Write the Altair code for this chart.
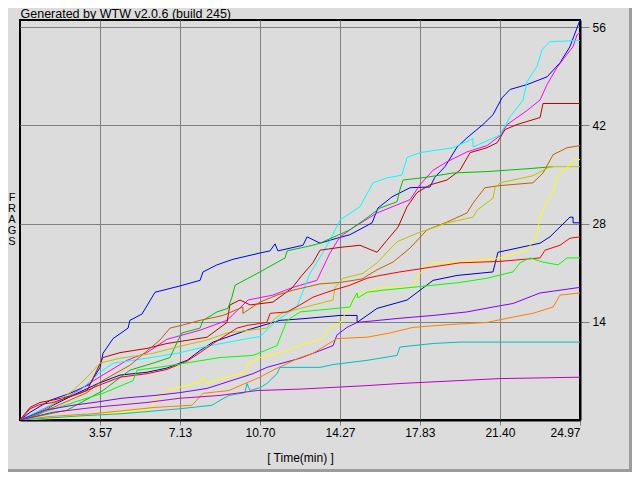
import altair as alt
import pandas as pd

# ---------------- data (time in minutes, frags) ----------------
players = ["blue", "darkblue", "magenta", "cyan", "darkred", "green", "brown",
           "olive", "yellow", "red", "lime", "purple", "orange", "teal", "violet"]
colors = ["#0000FF", "#0000C0", "#FF00FF", "#00FFFF", "#C00000", "#00C000", "#C06000",
          "#C0C000", "#FFFF00", "#FF0000", "#00FF00", "#8000FF", "#FF8000", "#00C0C0", "#C000C0"]

t_blue = [0, 0.45, 1.34, 2.23, 3.12, 3.57, 3.70, 4.15, 4.82, 4.90, 5.44, 6.02, 7.13, 8.03, 8.16, 8.78, 9.50, 10.70,
          11.15, 11.37, 11.50, 12.62, 12.80, 13.38, 14.13, 14.71, 15.70, 15.96, 16.59, 17.39, 18.28, 18.50, 18.95,
          19.49, 19.93, 20.64, 21.09, 21.49, 21.85, 22.61, 23.50, 24.08, 24.52, 24.97]
f_blue = [0, 1.1, 2.8, 3.8, 5.1, 7.5, 9.5, 11.6, 13.1, 14.2, 15.1, 18.2, 19.1, 19.9, 21.1, 22.1, 22.9, 23.8,
          24.1, 25.1, 24.1, 24.9, 26.1, 25.2, 25.9, 26.4, 28.1, 30.2, 31.8, 33.1, 33.2, 34.6, 36.1,
          38.9, 40.2, 42.1, 43.5, 45.9, 47.1, 47.8, 48.9, 50.9, 53.2, 57.0]

t_darkblue = [0, 0.89, 1.47, 2.54, 3.48, 4.46, 5.66, 6.55, 7.45, 8.03, 8.61, 10.12, 11.59, 12.49, 14.27, 15.03,
              15.03, 15.92, 17.26, 18.42, 19.49, 21.09, 21.31, 23.19, 23.63, 24.52, 24.66, 24.66, 24.97]
f_darkblue = [0, 0.9, 2.1, 3.8, 5.2, 6.4, 6.8, 7.4, 8.5, 9.9, 11.1, 12.8, 14.2, 14.4, 14.9, 14.9,
              13.9, 15.9, 17.1, 19.9, 20.6, 21.1, 23.9, 25.2, 26.1, 28.9, 28.9, 28.1, 28.1]

t_magenta = [0, 1.11, 2.23, 3.43, 4.77, 5.66, 6.55, 8.03, 9.23, 10.17, 11.28, 12.17, 13.24, 13.82, 14.27, 14.85,
             15.92, 17.39, 17.83, 18.42, 19.04, 19.93, 20.82, 21.40, 21.72, 22.61, 23.19, 23.50, 23.94, 24.39,
             24.66, 24.84, 24.97]
f_magenta = [0, 1.6, 3.5, 5.9, 8.5, 9.6, 11.5, 12.8, 14.2, 17.1, 17.8, 18.9, 19.9, 23.8, 26.1, 27.4,
             29.5, 31.4, 33.5, 35.6, 36.8, 38.2, 39.1, 40.5, 42.1, 44.1, 45.6, 47.8, 50.2, 52.1,
             53.2, 54.9, 55.2]

t_cyan = [0, 1.34, 2.68, 3.57, 4.15, 5.66, 7.00, 8.47, 9.81, 10.70, 11.46, 12.35, 12.93, 13.38, 13.82, 14.27,
          15.16, 15.74, 16.36, 17.03, 17.26, 17.83, 19.31, 20.20, 20.20, 21.40, 21.85, 22.43, 22.61, 23.05,
          23.28, 23.63, 24.97]
f_cyan = [0, 2.1, 4.2, 6.8, 8.1, 8.8, 9.5, 10.6, 11.4, 11.9, 14.2, 16.1, 20.9, 23.2, 25.6, 28.5,
          30.4, 33.8, 34.5, 34.9, 37.4, 38.1, 38.8, 40.1, 38.9, 40.6, 43.2, 45.6, 48.2, 50.4,
          52.8, 53.9, 54.1]

t_darkred = [0, 0.45, 0.89, 1.56, 2.23, 2.99, 3.43, 3.70, 4.46, 5.66, 6.55, 8.34, 9.23, 9.36, 9.81, 10.26,
             11.28, 12.13, 12.57, 13.06, 13.38, 14.27, 15.16, 15.92, 16.36, 16.86, 17.26, 17.70, 18.28, 19.04,
             19.62, 20.07, 20.82, 21.27, 21.63, 22.16, 23.19, 23.32, 24.97]
f_darkred = [0, 1.8, 2.5, 2.9, 3.4, 4.2, 7.1, 8.9, 9.6, 10.2, 10.9, 11.8, 13.9, 16.4, 17.1, 16.4,
             16.8, 18.8, 20.6, 22.4, 24.2, 24.6, 24.9, 23.9, 25.6, 27.5, 30.4, 32.4, 33.5, 34.2,
             35.6, 38.1, 38.8, 39.5, 41.4, 42.1, 43.1, 45.1, 45.1]

t_green = [0, 2.10, 3.70, 4.90, 5.93, 6.69, 7.05, 7.22, 8.03, 8.16, 8.78, 9.27, 9.45, 9.59, 10.70, 11.82,
           11.91, 13.06, 13.38, 14.71, 15.47, 16.05, 16.81, 16.94, 17.08, 18.15, 19.31, 20.82, 22.61, 23.77]
f_green = [0, 1.4, 4.2, 7.1, 8.1, 8.9, 11.4, 12.4, 13.1, 14.2, 15.4, 15.9, 17.5, 19.2, 21.1, 23.1,
           24.1, 24.9, 25.2, 27.1, 28.8, 30.2, 31.1, 32.8, 34.2, 34.6, 35.2, 35.4, 35.8, 36.1]

t_brown = [0, 1.34, 2.99, 3.57, 4.90, 5.80, 6.24, 6.69, 7.22, 8.03, 9.05, 9.94, 9.94, 10.70, 11.46, 12.17,
           13.38, 14.27, 15.25, 15.92, 16.63, 17.39, 18.15, 19.04, 19.93, 20.20, 20.73, 21.40, 22.87, 23.32,
           23.77, 24.39, 24.97]
f_brown = [0, 1.6, 3.9, 5.4, 7.8, 10.2, 11.4, 13.1, 13.5, 14.2, 14.9, 16.1, 15.2, 16.8, 17.8, 18.5,
           19.4, 19.6, 20.1, 21.4, 22.5, 24.5, 27.1, 28.2, 29.5, 30.9, 33.1, 33.4, 33.8, 35.2,
           37.8, 38.8, 39.1]

t_olive = [0, 1.11, 2.36, 2.99, 3.57, 4.46, 5.93, 7.00, 8.34, 9.23, 11.01, 11.28, 11.68, 12.49, 13.96, 14.05,
           14.40, 15.29, 15.92, 16.81, 17.70, 19.04, 20.20, 20.38, 21.09, 21.18, 21.40, 22.87, 23.63, 24.97]
f_olive = [0, 1.4, 4.2, 6.1, 8.1, 8.8, 9.5, 10.4, 11.4, 12.4, 13.1, 14.2, 15.2, 15.9, 17.1, 18.9,
           20.2, 20.9, 22.4, 25.4, 26.6, 28.1, 28.9, 29.9, 31.6, 33.1, 33.8, 34.8, 36.1, 36.1]

t_yellow = [0, 1.47, 2.99, 4.46, 5.80, 6.02, 6.55, 8.03, 8.16, 8.34, 8.92, 10.12, 10.17, 10.70, 11.91, 12.49,
            13.51, 13.82, 14.27, 14.71, 15.03, 15.92, 17.52, 17.75, 18.28, 19.62, 21.40, 22.61, 23.05, 23.19,
            23.41, 23.77, 23.99, 24.39, 24.66, 24.97]
f_yellow = [0, 0.2, 0.6, 1.1, 1.5, 2.8, 4.2, 5.4, 6.1, 5.2, 5.9, 6.8, 8.1, 8.9, 9.9, 10.6,
            11.6, 13.2, 13.8, 16.4, 17.8, 18.8, 18.9, 20.6, 22.4, 22.5, 23.1, 24.2, 26.4, 28.9,
            30.6, 32.4, 34.9, 35.9, 37.1, 37.1]

t_red = [0, 0.45, 0.89, 1.47, 2.68, 3.48, 4.46, 5.66, 6.55, 7.45, 8.03, 8.61, 9.68, 10.17, 11.01, 11.15,
         11.91, 12.49, 13.06, 13.96, 14.71, 15.47, 16.05, 16.94, 17.97, 19.62, 21.40, 23.19, 23.41, 24.08,
         24.52, 24.97]
f_red = [0, 1.6, 2.2, 2.5, 3.8, 4.9, 6.1, 6.6, 7.2, 8.4, 9.6, 10.9, 13.1, 13.5, 13.9, 15.2,
         15.4, 16.4, 17.5, 18.5, 19.2, 20.2, 20.6, 21.1, 21.6, 22.4, 22.6, 23.1, 24.2, 24.9,
         25.9, 26.1]

t_lime = [0, 1.34, 2.68, 3.70, 5.04, 5.22, 6.38, 8.92, 10.39, 11.46, 11.73, 11.91, 12.49, 14.71, 14.85, 15.03,
          15.07, 15.47, 16.19, 18.42, 19.62, 20.82, 21.98, 22.30, 22.74, 23.32, 23.99, 24.39, 24.97]
f_lime = [0, 1.4, 2.8, 3.8, 5.6, 7.1, 7.6, 8.9, 9.2, 10.6, 12.8, 14.2, 15.4, 16.1, 17.1, 18.1,
          17.4, 18.2, 18.5, 19.2, 19.6, 20.2, 21.1, 22.4, 23.1, 22.5, 22.1, 23.1, 23.1]

t_purple = [0, 1.11, 2.36, 3.30, 4.55, 6.02, 7.13, 8.34, 10.39, 11.01, 12.49, 13.96, 14.13, 14.58, 15.03, 16.94,
            18.42, 19.93, 21.09, 21.98, 23.19, 24.08, 24.97]
f_purple = [0, 1.4, 2.1, 2.5, 3.1, 3.5, 3.9, 4.5, 6.6, 7.5, 8.8, 10.6, 12.1, 13.2, 13.9, 14.5,
            14.9, 15.4, 16.1, 16.6, 18.1, 18.5, 18.9]

t_orange = [0, 1.34, 3.30, 6.02, 7.67, 8.16, 9.32, 10.03, 10.70, 11.28, 12.49, 13.06, 14.13, 15.47, 16.50, 17.52,
            19.17, 20.82, 21.72, 22.87, 23.77, 24.08, 24.97]
f_orange = [0, 0.5, 0.9, 1.8, 2.1, 3.8, 4.2, 5.2, 6.1, 7.1, 8.9, 9.5, 11.6, 11.8, 12.4, 13.2,
            13.6, 13.9, 14.5, 15.2, 16.1, 17.8, 18.1]

t_teal = [0, 2.76, 4.55, 7.13, 8.56, 8.92, 9.32, 10.03, 10.12, 10.26, 10.70, 11.01, 11.46, 11.59, 13.38, 13.96,
          15.47, 16.81, 16.94, 18.42, 19.62, 24.97]
f_teal = [0, 0.6, 0.9, 1.6, 2.1, 2.8, 3.5, 3.9, 5.2, 4.2, 4.6, 5.2, 6.6, 7.5, 7.5, 7.9,
          8.5, 9.2, 10.4, 10.9, 11.1, 11.1]

t_violet = [0, 1.47, 3.30, 5.66, 7.13, 8.92, 10.57, 12.49, 15.47, 16.94, 21.40, 24.97]
f_violet = [0, 1.1, 1.8, 2.5, 3.1, 3.5, 4.2, 4.4, 4.9, 5.2, 5.9, 6.1]

x_ticks = [3.57, 7.13, 10.70, 14.27, 17.83, 21.40, 24.97]
y_ticks = [14, 28, 42, 56]

series_t = [t_blue, t_darkblue, t_magenta, t_cyan, t_darkred, t_green, t_brown, t_olive,
            t_yellow, t_red, t_lime, t_purple, t_orange, t_teal, t_violet]
series_f = [f_blue, f_darkblue, f_magenta, f_cyan, f_darkred, f_green, f_brown, f_olive,
            f_yellow, f_red, f_lime, f_purple, f_orange, f_teal, f_violet]

rows = []
for name, ts, fs in zip(players, series_t, series_f):
    for i, (t, f) in enumerate(zip(ts, fs)):
        rows.append({"player": name, "t": t, "f": f, "i": i})
df = pd.DataFrame(rows)

FONT = "Liberation Sans"
one = alt.Data(values=[{}])

lines = alt.Chart(df).mark_line(strokeWidth=1, clip=True).encode(
    x=alt.X("t:Q", scale=alt.Scale(domain=[0, 24.97], nice=False, zero=False),
            axis=alt.Axis(values=x_ticks, format=".2f", title="[ Time(min) ]",
                          tickSize=5, labelPadding=2, titlePadding=14)),
    y=alt.Y("f:Q", scale=alt.Scale(domain=[0, 57], nice=False),
            axis=alt.Axis(orient="right", values=y_ticks, title=None,
                          tickSize=9, labelPadding=3)),
    color=alt.Color("player:N", scale=alt.Scale(domain=players, range=colors), legend=None),
    order=alt.Order("i:Q"),
)

# inner bevel of the window frame (right / bottom edges)
bevel_r = alt.Chart(one).mark_rect(color="#9C9C9C").encode(
    x=alt.value(609), x2=alt.value(612), y=alt.value(-12), y2=alt.value(452))
bevel_b = alt.Chart(one).mark_rect(color="#9C9C9C").encode(
    x=alt.value(-12), x2=alt.value(612), y=alt.value(449), y2=alt.value(452))

title = alt.Chart(one).mark_text(align="left", baseline="alphabetic", font=FONT,
                                 fontSize=12.5, color="black").encode(
    x=alt.value(0.5), y=alt.value(-2.5), text=alt.value("Generated by WTW v2.0.6 (build 245)"))

ylab = alt.Chart(one).mark_text(align="center", baseline="middle", font=FONT, fontSize=11,
                                color="black", lineHeight=11,
                                text=["F", "R", "A", "G", "S"]).encode(
    x=alt.value(-8), y=alt.value(178))

chart = alt.layer(bevel_r, bevel_b, lines, title, ylab).properties(
    width=560, height=400,
    autosize=alt.AutoSizeParams(type="none"),
    padding={"left": 12, "top": 12, "right": 52, "bottom": 52},
    background="#DCDCDC",
).configure_view(
    stroke="black", strokeWidth=2,
).configure_axis(
    grid=True, gridColor="#808080", gridWidth=1, gridOpacity=1,
    tickColor="#808080", tickWidth=1,
    domainColor="black", domainWidth=2,
    labelColor="black", labelFont=FONT, labelFontSize=12,
    titleColor="black", titleFont=FONT, titleFontSize=12, titleFontWeight="normal",
)

chart.save("out.html", embed_options={"renderer": "svg", "actions": False})
